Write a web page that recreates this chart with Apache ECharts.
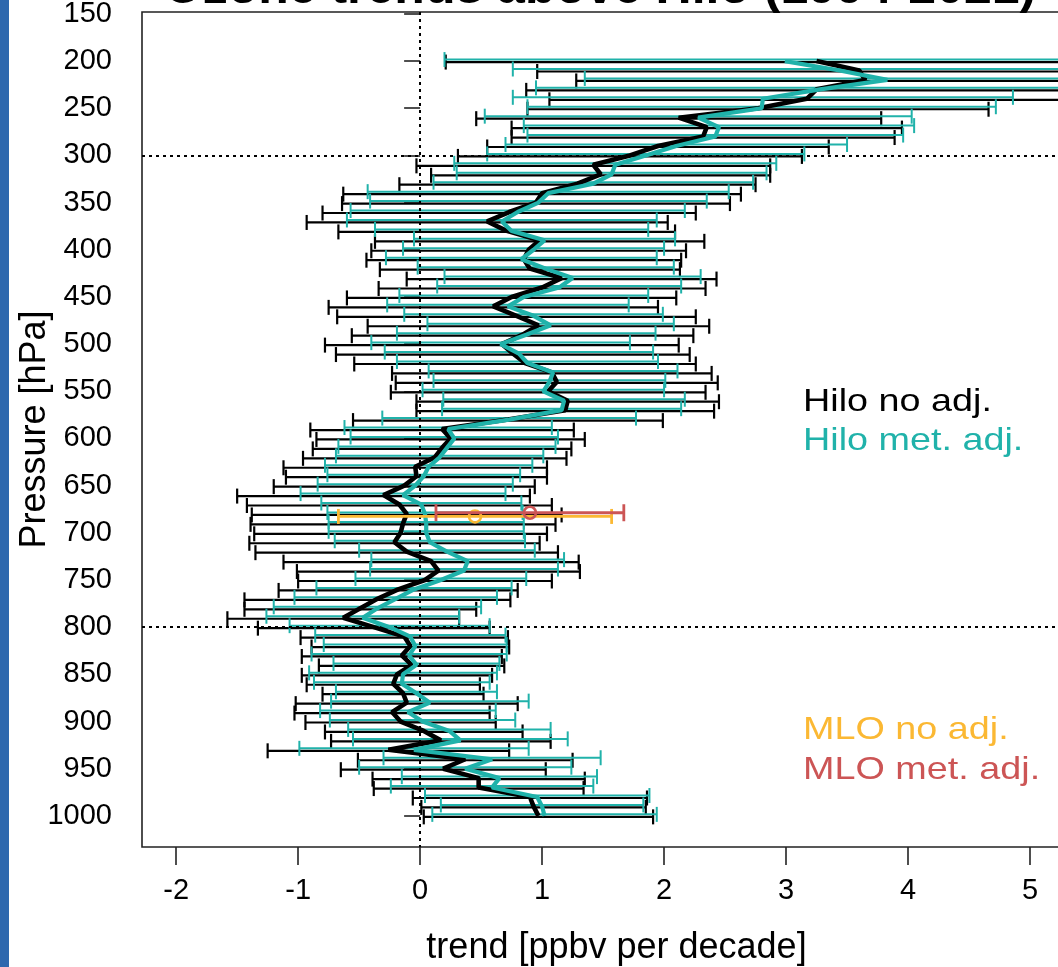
<!DOCTYPE html>
<html>
<head>
<meta charset="utf-8">
<script src="https://cdn.jsdelivr.net/npm/echarts@6/dist/echarts.min.js"></script>
<style>
  html, body { margin: 0; padding: 0; background: #fff; }
  #chart { width: 1058px; height: 967px; }
</style>
</head>
<body>
<div id="chart"></div>
<script>
// Pressure levels of the Hilo ozonesonde profile [hPa]
const pressure = [
  200, 210, 220, 230, 240, 250, 260, 270, 280, 290,
  300, 310, 320, 330, 340, 350, 360, 370, 380, 390,
  400, 410, 420, 430, 440, 450, 460, 470, 480, 490,
  500, 510, 520, 530, 540, 550, 560, 570, 580, 590,
  600, 610, 620, 630, 640, 650, 660, 670, 680, 690,
  700, 710, 720, 730, 740, 750, 760, 770, 780, 790,
  800, 810, 820, 830, 840, 850, 860, 870, 880, 890,
  900, 910, 920, 930, 940, 950, 960, 970, 980, 990,
  1000
];

// Hilo trend without adjustment [ppbv per decade] and its uncertainty half-width
const hiloNoAdj = [
  3.25, 3.60, 3.65, 3.25, 3.17, 2.77, 2.12, 2.35, 2.32, 1.95,
  1.72, 1.42, 1.48, 1.29, 1.00, 0.95, 0.73, 0.55, 0.71, 0.98,
  0.89, 0.85, 0.90, 1.16, 1.00, 0.75, 0.60, 0.79, 0.97, 0.84,
  0.67, 0.76, 0.86, 1.08, 1.12, 1.05, 1.21, 1.19, 0.72, 0.18,
  0.25, 0.18, 0.12, -0.04, -0.03, -0.13, -0.30, -0.17, -0.11, -0.14,
  -0.16, -0.21, -0.11, 0.09, 0.15, 0.04, -0.18, -0.35, -0.49, -0.63,
  -0.38, -0.13, -0.08, -0.15, -0.07, -0.19, -0.22, -0.14, -0.11, -0.23,
  -0.16, 0.03, 0.17, -0.26, 0.37, 0.19, 0.48, 0.48, 0.90, 0.93,
  0.97
];
const hiloNoAdjErr = [
  3.04, 2.64, 2.37, 2.38, 2.11, 1.89, 1.66, 1.60, 1.57, 1.40,
  1.41, 1.45, 1.39, 1.46, 1.63, 1.59, 1.53, 1.48, 1.38, 1.35,
  1.29, 1.29, 1.23, 1.27, 1.34, 1.35, 1.35, 1.47, 1.40, 1.40,
  1.45, 1.45, 1.40, 1.31, 1.32, 1.29, 1.24, 1.22, 1.27, 1.08,
  1.10, 1.06, 1.08, 1.08, 1.07, 1.07, 1.20, 1.25, 1.27, 1.25,
  1.20, 1.19, 1.24, 1.21, 1.16, 1.04, 0.98, 1.09, 0.95, 0.95,
  0.95, 0.85, 0.81, 0.82, 0.76, 0.78, 0.71, 0.66, 0.91, 0.80,
  0.78, 0.81, 0.90, 0.99, 0.88, 0.84, 0.87, 0.86, 0.96, 0.92,
  0.94
];

// Hilo trend after meteorological adjustment and its uncertainty half-width
const hiloMetAdj = [
  2.99, 3.44, 3.83, 3.28, 2.81, 2.80, 2.28, 2.45, 2.42, 2.10,
  1.85, 1.60, 1.57, 1.42, 1.05, 0.97, 0.80, 0.67, 0.75, 1.02,
  0.93, 0.83, 1.03, 1.25, 1.14, 0.85, 0.72, 0.93, 1.07, 0.87,
  0.66, 0.81, 0.88, 1.09, 1.06, 1.01, 1.18, 1.16, 0.73, 0.23,
  0.28, 0.22, 0.16, 0.07, 0.03, -0.04, -0.14, 0.01, 0.04, 0.05,
  0.05, 0.08, 0.22, 0.39, 0.36, 0.17, -0.05, -0.20, -0.35, -0.47,
  -0.25, -0.08, -0.04, -0.09, -0.03, -0.14, -0.15, -0.03, 0.08, -0.10,
  0.02, 0.24, 0.33, -0.05, 0.59, 0.37, 0.65, 0.59, 0.96, 1.00,
  1.02
];
const hiloMetAdjErr = [
  2.79, 2.68, 2.48, 2.33, 2.05, 1.92, 1.75, 1.60, 1.54, 1.40,
  1.30, 1.32, 1.27, 1.31, 1.48, 1.38, 1.37, 1.27, 1.12, 1.07,
  1.07, 1.11, 1.05, 1.05, 1.00, 1.02, 0.99, 1.06, 1.01, 1.06,
  1.06, 1.10, 1.07, 1.02, 0.95, 0.99, 0.99, 0.98, 1.04, 0.85,
  0.85, 0.89, 0.85, 0.85, 0.79, 0.80, 0.84, 0.82, 0.80, 0.80,
  0.80, 0.78, 0.72, 0.79, 0.77, 0.70, 0.80, 0.83, 0.85, 0.79,
  0.82, 0.78, 0.75, 0.80, 0.68, 0.77, 0.72, 0.66, 0.81, 0.72,
  0.76, 0.83, 0.88, 0.94, 0.89, 0.87, 0.80, 0.83, 0.92, 0.83,
  0.92
];

// Mauna Loa Observatory trends, single level
const mloPressure = [680];
const mloNoAdj = [0.45];
const mloNoAdjErr = [1.12];
const mloMetAdj = [0.90];
const mloMetAdjErr = [0.77];

// Tick labels
const xTicks = [-2, -1, 0, 1, 2, 3, 4, 5];
const yTicks = [150, 200, 250, 300, 350, 400, 450, 500, 550, 600, 650, 700, 750, 800, 850, 900, 950, 1000];

const TEAL = '#20B2AA';
const BLACK = '#000000';
const GOLD = '#FBB833';
const RED = '#CC5555';
const FONT = '"Liberation Sans", Arial, Helvetica, sans-serif';

// rows of [pressure, trend, half-width]
function rows(p, c, e) {
  return p.map((v, i) => [v, c[i], e[i]]);
}

// horizontal error bar with end caps, optional open circle at the centre
function errorBar(color, width, capH, dy, circle) {
  return function (params, api) {
    const p = api.value(0), c = api.value(1), e = api.value(2);
    const a = api.coord([c - e, p]);
    const b = api.coord([c + e, p]);
    const m = api.coord([c, p]);
    const y = a[1] + dy;
    const st = { stroke: color, lineWidth: width, fill: null };
    const children = [
      { type: 'line', shape: { x1: a[0], y1: y, x2: b[0], y2: y }, style: st },
      { type: 'line', shape: { x1: a[0], y1: y - capH / 2, x2: a[0], y2: y + capH / 2 }, style: st },
      { type: 'line', shape: { x1: b[0], y1: y - capH / 2, x2: b[0], y2: y + capH / 2 }, style: st }
    ];
    if (circle) {
      children.push({ type: 'circle', shape: { cx: m[0], cy: y, r: circle },
        style: { stroke: color, lineWidth: 2.6, fill: null } });
    }
    return { type: 'group', children: children };
  };
}

// legend entry written as coloured text
function legendText(label, color, y) {
  return {
    type: 'text', x: 803, y: y, z: 10, scaleX: 1.18, originX: 0, originY: 0,
    style: { text: label, fill: color, font: '32px ' + FONT, textVerticalAlign: 'middle' }
  };
}

const chart = echarts.init(document.getElementById('chart'), null, { renderer: 'canvas' });

const option = {
  animation: false,
  backgroundColor: '#ffffff',
  grid: {
    left: 142, top: 12, width: 949, height: 835,
    outerBoundsMode: 'none',
    containLabel: false,
    show: true, borderColor: '#222', borderWidth: 1.6, backgroundColor: 'transparent'
  },
  xAxis: {
    type: 'value',
    min: -2.28, max: 5.5,
    axisLine: { show: false },
    splitLine: { show: false },
    axisTick: { show: true, customValues: xTicks, length: 18, lineStyle: { color: '#222', width: 1.6 } },
    axisLabel: { customValues: xTicks, margin: 29, color: '#000', fontSize: 29, fontFamily: FONT,
                 formatter: v => String(v) },
    name: 'trend [ppbv per decade]',
    nameLocation: 'middle',
    nameGap: 83,
    nameMoveOverlap: false,
    nameTextStyle: { color: '#000', fontSize: 36, fontFamily: FONT }
  },
  yAxis: {
    type: 'value',
    inverse: true,
    min: 148, max: 1033,
    axisLine: { show: false },
    splitLine: { show: false },
    axisTick: { show: true, customValues: yTicks, length: 16, lineStyle: { color: '#222', width: 1.6 } },
    axisLabel: { customValues: yTicks, margin: 30, color: '#000', fontSize: 29, fontFamily: FONT,
                 formatter: v => String(v) },
    name: 'Pressure [hPa]',
    nameLocation: 'middle',
    nameGap: 89,
    nameRotate: 90,
    nameMoveOverlap: false,
    nameTextStyle: { color: '#000', fontSize: 36, fontFamily: FONT }
  },
  series: [
    {
      // zero line and the 300 / 800 hPa guide lines
      type: 'line',
      data: [],
      z: 1,
      markLine: {
        silent: true,
        symbol: ['none', 'none'],
        label: { show: false },
        lineStyle: { color: '#000', type: [3, 4], width: 2 },
        data: [{ xAxis: 0 }, { yAxis: 300 }, { yAxis: 800 }]
      }
    },
    {
      name: 'Hilo no adj.',
      type: 'custom',
      z: 2,
      encode: { x: 1, y: 0 },
      data: rows(pressure, hiloNoAdj, hiloNoAdjErr),
      renderItem: errorBar(BLACK, 2.2, 15, 1, 0)
    },
    {
      name: 'Hilo met. adj.',
      type: 'custom',
      z: 3,
      encode: { x: 1, y: 0 },
      data: rows(pressure, hiloMetAdj, hiloMetAdjErr),
      renderItem: errorBar(TEAL, 2.0, 15, -1.5, 0)
    },
    {
      type: 'line',
      z: 4,
      symbol: 'none',
      data: pressure.map((p, i) => [hiloNoAdj[i], p]),
      lineStyle: { color: BLACK, width: 4.6 }
    },
    {
      type: 'line',
      z: 5,
      symbol: 'none',
      data: pressure.map((p, i) => [hiloMetAdj[i], p]),
      lineStyle: { color: TEAL, width: 4.2 }
    },
    {
      name: 'MLO no adj.',
      type: 'custom',
      z: 6,
      encode: { x: 1, y: 0 },
      data: rows(mloPressure, mloNoAdj, mloNoAdjErr),
      renderItem: errorBar(GOLD, 2.8, 15, 2.5, 6)
    },
    {
      name: 'MLO met. adj.',
      type: 'custom',
      z: 7,
      encode: { x: 1, y: 0 },
      data: rows(mloPressure, mloMetAdj, mloMetAdjErr),
      renderItem: errorBar(RED, 2.8, 17, -1.2, 6)
    }
  ],
  graphic: [
    { type: 'rect', left: 0, top: 0, shape: { width: 9, height: 967 }, style: { fill: '#2E68AE' }, z: 10 },
    { type: 'text', x: 600, y: -11, z: 10,
      style: { text: 'Ozone trends above Hilo (1994-2021)', fill: '#000', font: 'bold 50px ' + FONT,
               textAlign: 'center', textVerticalAlign: 'middle' } },
    legendText('Hilo no adj.', BLACK, 402),
    legendText('Hilo met. adj.', TEAL, 441),
    legendText('MLO no adj.', GOLD, 730),
    legendText('MLO met. adj.', RED, 770)
  ]
};

chart.setOption(option);
</script>
</body>
</html>
